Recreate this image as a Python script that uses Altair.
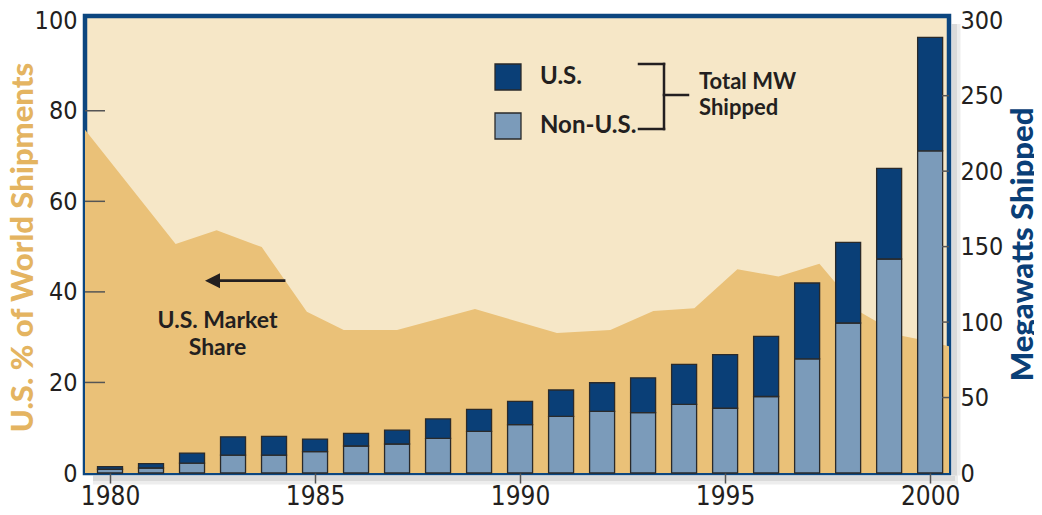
import altair as alt
import pandas as pd

# ---------------- data ----------------
years = list(range(1980, 2001))
non_us_mw = [2.5, 3.3, 6.6, 11.9, 11.9, 14.1, 17.9, 19.2, 22.9, 27.6, 32.0,
             37.5, 40.8, 40.0, 45.5, 42.9, 50.7, 75.6, 99.4, 141.8, 213.5]
us_mw = [1.7, 2.9, 6.6, 12.1, 12.4, 8.4, 8.4, 9.2, 12.9, 14.6, 15.5,
         17.5, 19.0, 23.0, 26.5, 35.5, 39.8, 50.3, 53.4, 60.0, 75.2]

share_year = [1979.39, 1981.6, 1982.6, 1983.7, 1984.8, 1985.7, 1987.0, 1988.9,
              1990.9, 1992.2, 1993.25, 1994.25, 1995.3, 1996.3, 1997.3, 1998.3,
              1999.3, 1999.7, 2000.46]
share_pct = [75.8, 50.6, 53.6, 49.9, 35.6, 31.6, 31.6, 36.2,
             30.9, 31.6, 35.8, 36.4, 45.0, 43.4, 46.2, 35.5,
             30.3, 29.6, 28.0]

series_names = ["U.S.", "Non-U.S."]
x_ticks = [1980, 1985, 1990, 1995, 2000]
left_ticks = [0, 20, 40, 60, 80, 100]
right_ticks = [0, 50, 100, 150, 200, 250, 300]
left_inner_ticks = [20, 40, 60, 80]
right_inner_ticks = [50, 100, 150, 200, 250]

# ---------------- tables ----------------
rows = []
for y, n, u in zip(years, non_us_mw, us_mw):
    rows.append({"year": y, "series": "Non-U.S.", "mw": n, "ord": 0})
    rows.append({"year": y, "series": "U.S.", "mw": u, "ord": 1})
bars_df = pd.DataFrame(rows)
share_df = pd.DataFrame({"year": share_year, "share": share_pct})
lt_df = pd.DataFrame({"v": left_inner_ticks})
rt_df = pd.DataFrame({"v": right_inner_ticks})

# ---------------- styling ----------------
W, H = 864, 457
NAVY = "#0A3F77"
STEEL = "#7B9BBA"
CREAM = "#F6E7C7"
GOLD_AREA = "#EAC178"
GOLD_TITLE = "#E4B461"
INK = "#231F20"
NUM_FONT = "'Liberation Sans Narrow', 'DejaVu Sans Condensed', 'Roboto Condensed', 'Liberation Sans', sans-serif"
ANN_FONT = "Lato"

x_scale = alt.Scale(domain=[1979.39, 2000.46], nice=False, zero=False, padding=0)
x_axis = alt.Axis(values=x_ticks, format="d", tickSize=10, tickColor="#555555",
                  tickWidth=1.5, domain=False, grid=False, labelFont=NUM_FONT,
                  labelFontSize=26, labelColor=INK, labelPadding=0, title=None,
                  labelFlush=False, zindex=2)

left_scale = alt.Scale(domain=[0, 100.93], nice=False, zero=True)
right_scale = alt.Scale(domain=[0, 302.8], nice=False, zero=True)

left_axis = alt.Axis(orient="left", values=left_ticks, ticks=False, domain=False,
                     grid=False, labelFont=NUM_FONT, labelFontSize=25,
                     labelColor=INK, labelPadding=8,
                     title="U.S. % of World Shipments", titleFont=ANN_FONT,
                     titleFontSize=31, titleFontWeight=900, titleColor=GOLD_TITLE,
                     titleAngle=270, titleAlign="center", titleBaseline="middle",
                     titleX=-62, titleY=231)
right_axis = alt.Axis(orient="right", values=right_ticks, ticks=False, domain=False,
                      grid=False, labelFont=NUM_FONT, labelFontSize=25,
                      labelColor=INK, labelPadding=11,
                      title="Megawatts Shipped", titleFont=ANN_FONT,
                      titleFontSize=31, titleFontWeight=900, titleColor=NAVY,
                      titleAngle=270, titleAlign="center", titleBaseline="middle",
                      titleX=74, titleY=228)

one = pd.DataFrame({"k": [0]})


# ---------------- drop shadow (decoration) ----------------
def shade(x1, y1, x2, y2, w, op):
    return alt.Chart(one).mark_rule(color="#000000", opacity=op, strokeWidth=w).encode(
        x=alt.value(x1), x2=alt.value(x2), y=alt.value(y1), y2=alt.value(y2))


shadows = [
    shade(8, H + 7, W + 9, H + 7, 9, 0.07),
    shade(8, H + 5.5, W + 6, H + 5.5, 5, 0.08),
    shade(W + 7, 8, W + 7, H + 2.5, 9, 0.07),
    shade(W + 5.5, 8, W + 5.5, H + 2.5, 5, 0.08),
]

# ---------------- left group ----------------
area = alt.Chart(share_df).mark_area(color=GOLD_AREA, opacity=1, interpolate="linear").encode(
    x=alt.X("year:Q", scale=x_scale, axis=x_axis),
    y=alt.Y("share:Q", scale=left_scale, axis=left_axis),
)
left_tick_rules = alt.Chart(lt_df).mark_rule(color="#555555", strokeWidth=1.5).encode(
    y=alt.Y("v:Q", scale=left_scale, axis=left_axis),
    x=alt.value(0), x2=alt.value(20),
)
left_group = alt.layer(area, left_tick_rules)

# ---------------- right group ----------------
bars = alt.Chart(bars_df).mark_bar(size=25, stroke="#2a2a2a", strokeWidth=1.3).encode(
    x=alt.X("year:Q", scale=x_scale, axis=x_axis),
    y=alt.Y("mw:Q", stack="zero", scale=right_scale, axis=right_axis),
    color=alt.Color("series:N",
                    scale=alt.Scale(domain=series_names, range=[NAVY, STEEL]),
                    legend=alt.Legend(orient="none", legendX=409, legendY=47,
                                      title=None, symbolType="square",
                                      symbolSize=676, symbolStrokeColor="#2a2a2a",
                                      symbolStrokeWidth=1.3, symbolOpacity=1,
                                      labelFont=ANN_FONT, labelFontSize=24,
                                      labelFontWeight="bold", labelColor=INK,
                                      labelOffset=18, rowPadding=17, padding=0,
                                      symbolOffset=0)),
    order=alt.Order("ord:Q"),
)
right_tick_rules = alt.Chart(rt_df).mark_rule(color="#555555", strokeWidth=1.5).encode(
    y=alt.Y("v:Q", scale=right_scale, axis=right_axis),
    x=alt.value(W - 7), x2=alt.value(W),
)
right_group = alt.layer(bars, right_tick_rules)

# ---------------- annotations ----------------


def txt(s, x, y, size, align="left"):
    return alt.Chart(one).mark_text(text=s, font=ANN_FONT, fontSize=size,
                                    fontWeight="bold", color=INK, align=align,
                                    baseline="alphabetic").encode(
        x=alt.value(x), y=alt.value(y))


def seg(x1, y1, x2, y2, w=2.5):
    return alt.Chart(one).mark_rule(color=INK, strokeWidth=w, strokeCap="square").encode(
        x=alt.value(x1), y=alt.value(y1), x2=alt.value(x2), y2=alt.value(y2))


arrow_line = seg(133, 264.7, 199, 264.7, 2.8)
arrow_head = alt.Chart(one).mark_point(shape="M-1,0L1,-1L1,1Z", filled=True, size=225,
                                       color=INK, opacity=1, strokeWidth=0).encode(
    x=alt.value(127.5), y=alt.value(264.7))

ann = [
    arrow_line, arrow_head,
    txt("U.S. Market", 132.5, 312.3, 23, "center"),
    txt("Share", 132.5, 338.5, 23, "center"),
    seg(554, 48, 579, 48), seg(579, 48, 579, 113), seg(554, 113, 579, 113),
    seg(579, 79, 603, 79),
    txt("Total MW", 614, 73.3, 22),
    txt("Shipped", 614, 99, 22),
]

chart = alt.layer(*shadows, left_group, right_group, *ann).resolve_scale(
    y="independent", color="independent"
).properties(
    width=W, height=H,
    autosize=alt.AutoSizeParams(type="none"),
    padding={"left": 77, "top": 8, "right": 85, "bottom": 34},
    background="white",
).configure_view(
    fill=CREAM, stroke="#0C467F", strokeWidth=4.5,
)

chart.save("out.html", embed_options={"renderer": "svg", "actions": False})
